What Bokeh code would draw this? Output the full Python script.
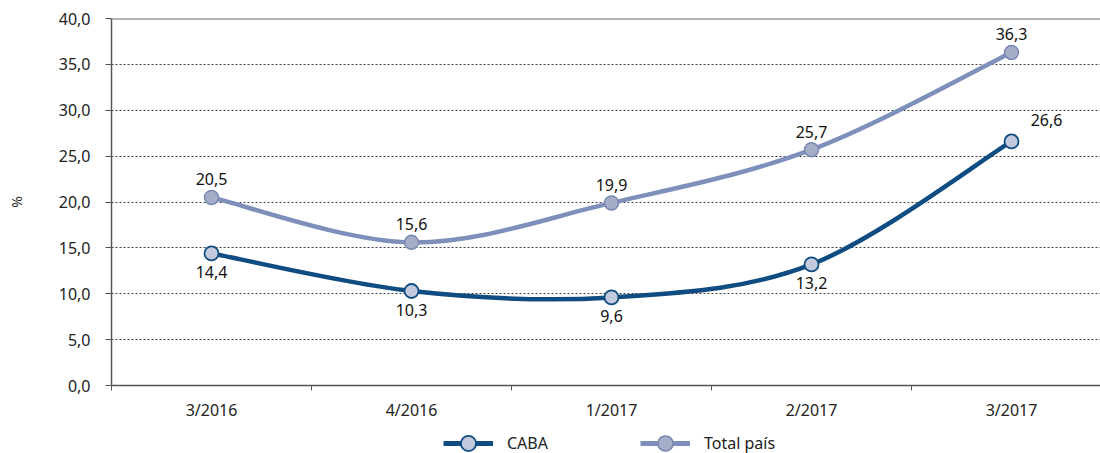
from bokeh.plotting import figure
from bokeh.layouts import column
from bokeh.models import (ColumnDataSource, FixedTicker, CustomJSTickFormatter, Span,
                          Legend, LegendItem, CDSView, IndexFilter, Range1d)
from bokeh.core.properties import value
from bokeh.embed import file_html
from bokeh.resources import INLINE

categories = ["3/2016", "4/2016", "1/2017", "2/2017", "3/2017"]
caba = [14.4, 10.3, 9.6, 13.2, 26.6]
total = [20.5, 15.6, 19.9, 25.7, 36.3]
y_ticks = [0, 5, 10, 15, 20, 25, 30, 35, 40]
series_names = ["CABA", "Total país"]

FONT_NAME = "Noto Sans"
FONT = value(FONT_NAME)
FS = "16px"
C_CABA = "#0f4c81"
C_CABA_FILL = "#c4cade"
C_TOT = "#7d8fba"
C_TOT_FILL = "#a6adc9"
C_TOT_EDGE = "#7a89b2"

xs = list(range(len(categories)))


def bezier_source(x, y):
    n = len(x)
    d = dict(x0=[], y0=[], x1=[], y1=[], cx0=[], cy0=[], cx1=[], cy1=[])
    for i in range(n - 1):
        a = max(i - 1, 0)
        b = min(i + 2, n - 1)
        d["x0"].append(x[i]); d["y0"].append(y[i])
        d["x1"].append(x[i + 1]); d["y1"].append(y[i + 1])
        d["cx0"].append(x[i] + (x[i + 1] - x[a]) / 6.0)
        d["cy0"].append(y[i] + (y[i + 1] - y[a]) / 6.0)
        d["cx1"].append(x[i + 1] - (x[b] - x[i]) / 6.0)
        d["cy1"].append(y[i + 1] - (y[b] - y[i]) / 6.0)
    return ColumnDataSource(d)


def fmt(v):
    return f"{v:.1f}".replace(".", ",")


p = figure(width=1100, height=423, x_range=Range1d(-0.5, 4.445), y_range=Range1d(0, 40),
           output_backend="svg", toolbar_location=None,
           min_border_left=111, min_border_right=0, min_border_top=18, min_border_bottom=30)
p.outline_line_color = None

# grid
p.xgrid.grid_line_color = None
p.ygrid.ticker = FixedTicker(ticks=y_ticks)
p.ygrid.grid_line_color = "#404040"
p.ygrid.grid_line_dash = "2 2"
p.ygrid.grid_line_width = 1
p.add_layout(Span(location=y_ticks[-1], dimension="width", line_color="#666666", line_width=2))

# y axis
yax = p.yaxis[0]
yax.ticker = FixedTicker(ticks=y_ticks)
yax.formatter = CustomJSTickFormatter(code="return tick.toFixed(1).replace('.', ',');")
yax.axis_line_color = "#555555"
yax.axis_line_width = 1.5
yax.major_tick_line_color = "#555555"
yax.major_tick_out = 6
yax.major_tick_in = 0
yax.minor_tick_line_color = None
yax.major_label_standoff = 15
yax.major_label_text_font = FONT_NAME
yax.major_label_text_font_size = FS
yax.major_label_text_color = "#222222"
yax.axis_label = "%"
yax.axis_label_text_font = FONT_NAME
yax.axis_label_text_font_size = "14px"
yax.axis_label_text_font_style = "normal"
yax.axis_label_text_color = "#222222"
yax.axis_label_standoff = 30

# x axis
xax = p.xaxis[0]
xax.ticker = FixedTicker(ticks=xs, minor_ticks=[i - 0.5 for i in range(len(categories) + 1)])
xax.major_label_overrides = {i: c for i, c in enumerate(categories)}
xax.axis_line_color = "#555555"
xax.axis_line_width = 1.5
xax.major_tick_line_color = None
xax.major_tick_out = 0
xax.major_tick_in = 0
xax.minor_tick_line_color = "#555555"
xax.minor_tick_out = 5
xax.minor_tick_in = 0
xax.major_label_standoff = 8
xax.major_label_text_font = FONT_NAME
xax.major_label_text_font_size = FS
xax.major_label_text_color = "#222222"

# curves
tot_src = bezier_source(xs, total)
caba_src = bezier_source(xs, caba)
p.bezier(x0="x0", y0="y0", x1="x1", y1="y1", cx0="cx0", cy0="cy0", cx1="cx1", cy1="cy1",
         source=tot_src, line_color=C_TOT, line_width=4.5)
p.bezier(x0="x0", y0="y0", x1="x1", y1="y1", cx0="cx0", cy0="cy0", cx1="cx1", cy1="cy1",
         source=caba_src, line_color=C_CABA, line_width=4.5)

pts = ColumnDataSource(dict(x=xs, caba=caba, total=total,
                            caba_lbl=[fmt(v) for v in caba],
                            total_lbl=[fmt(v) for v in total]))

p.scatter("x", "total", source=pts, size=14, fill_color=C_TOT_FILL,
          line_color=C_TOT_EDGE, line_width=1.5)
p.scatter("x", "caba", source=pts, size=14, fill_color=C_CABA_FILL,
          line_color=C_CABA, line_width=1.8)

# data labels
p.text("x", "total", text="total_lbl", source=pts, text_font=FONT, text_font_size=FS,
       text_color="#111111", text_align="center", text_baseline="middle", y_offset=-18)
p.text("x", "caba", text="caba_lbl", source=pts, view=CDSView(filter=IndexFilter([0, 1, 2, 3])),
       text_font=FONT, text_font_size=FS, text_color="#111111",
       text_align="center", text_baseline="middle", y_offset=19)
p.text("x", "caba", text="caba_lbl", source=pts, view=CDSView(filter=IndexFilter([4])),
       text_font=FONT, text_font_size=FS, text_color="#111111",
       text_align="center", text_baseline="middle", x_offset=35, y_offset=-21)

# legend strip (separate small figure below the chart; its data lies outside its
# y range, so only the legend is visible there)
lg = figure(width=1100, height=30, x_range=Range1d(-0.5, 4.445), y_range=Range1d(1000, 1001),
            output_backend="svg", toolbar_location=None,
            min_border_left=0, min_border_right=0, min_border_top=0, min_border_bottom=0)
lg.outline_line_color = None
lg.axis.visible = False
lg.grid.visible = False
l1 = lg.line("x", "caba", source=pts, line_color=C_CABA, line_width=5)
m1 = lg.scatter("x", "caba", source=pts, size=14, fill_color=C_CABA_FILL,
                line_color=C_CABA, line_width=1.8)
l2 = lg.line("x", "total", source=pts, line_color=C_TOT, line_width=5)
m2 = lg.scatter("x", "total", source=pts, size=14, fill_color=C_TOT_FILL,
                line_color=C_TOT_EDGE, line_width=1.5)
legend = Legend(items=[LegendItem(label=series_names[0], renderers=[l1, m1]),
                       LegendItem(label=series_names[1], renderers=[l2, m2])],
                location=(332, -9), orientation="horizontal",
                glyph_width=50, glyph_height=38, label_standoff=14, spacing=92,
                padding=0, margin=0, border_line_color=None, background_fill_alpha=0,
                label_text_font=FONT_NAME, label_text_font_size=FS, label_text_color="#222222")
lg.add_layout(legend, "center")

layout = column(p, lg, spacing=0)
open("out.html", "w").write(file_html(layout, INLINE))
